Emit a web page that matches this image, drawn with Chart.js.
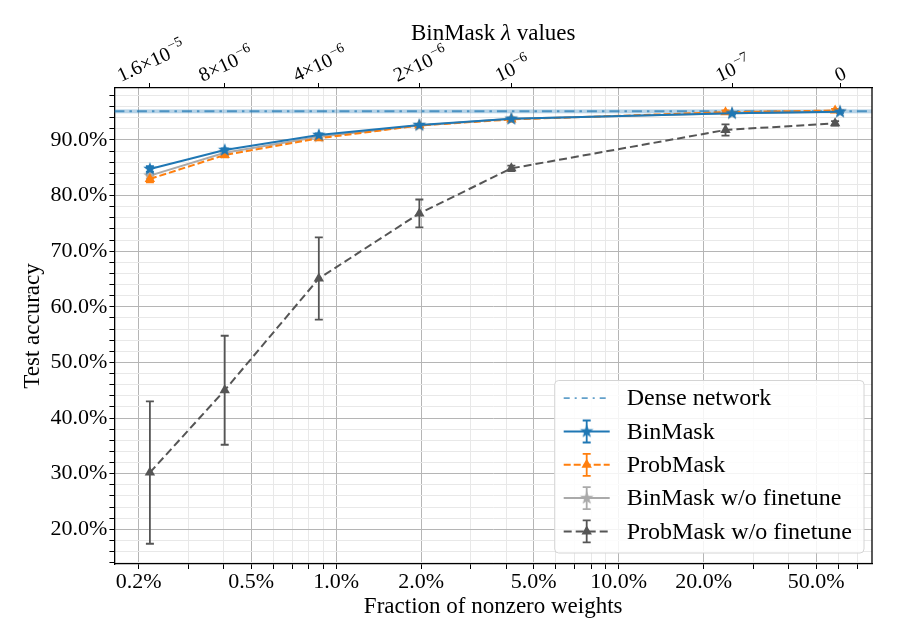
<!DOCTYPE html>
<html>
<head>
<meta charset="utf-8">
<title>Test accuracy vs fraction of nonzero weights</title>
<script src="https://cdn.jsdelivr.net/npm/chart.js@4.4.0/dist/chart.umd.min.js"></script>
<style>
  html, body { margin: 0; padding: 0; background: #ffffff; }
  #wrap { width: 900px; height: 643px; }
</style>
</head>
<body>
<div id="wrap"><canvas id="accChart"></canvas></div>
<script>
const FONT = "'Liberation Serif', 'DejaVu Serif', serif";

// Bottom axis: fraction of nonzero weights (%), log scale
const xMin = 0.164;
const xMax = 78.9;
const xTickValues = [0.2, 0.5, 1, 2, 5, 10, 20, 50];
const xTickLabels = ['0.2%', '0.5%', '1.0%', '2.0%', '5.0%', '10.0%', '20.0%', '50.0%'];
// light grid lines between the labelled ticks
const xMinorValues = [0.3, 0.4, 0.6, 0.7, 0.8, 0.9, 3, 4, 6, 7, 8, 9, 30, 40, 60, 70];

// Left axis: test accuracy (%)
const yMin = 13.76;
const yMax = 99.35;
const yTickValues = [20, 30, 40, 50, 60, 70, 80, 90];
const yTickLabels = ['20.0%', '30.0%', '40.0%', '50.0%', '60.0%', '70.0%', '80.0%', '90.0%'];
const yMinorStep = 2;

// Top axis: BinMask lambda values, sitting on the BinMask fractions
const lambdaBase = ['1.6×10', '8×10', '4×10', '2×10', '10', '10', '0'];
const lambdaExp = ['−5', '−6', '−6', '−6', '−6', '−7', ''];

// BinMask
const binFrac = [0.219, 0.403, 0.868, 1.97, 4.17, 25.2, 60.8];
const binAcc = [84.8, 88.2, 90.9, 92.7, 93.8, 94.8, 95.1];
const binErr = [0.5, 0.3, 0.3, 0.2, 0.2, 0.2, 0.2];

// ProbMask
const probFrac = [0.219, 0.403, 0.868, 1.97, 4.17, 23.9, 58.4];
const probAcc = [83.0, 87.3, 90.3, 92.6, 93.7, 95.0, 95.3];
const probErr = [0.6, 0.4, 0.3, 0.3, 0.2, 0.3, 0.3];

// BinMask w/o finetune
const binNoFtAcc = [83.6, 87.7, 90.6, 92.6, 93.8, 94.8, 95.1];
const binNoFtErr = [0.5, 0.3, 0.3, 0.2, 0.2, 0.2, 0.2];

// ProbMask w/o finetune
const probNoFtAcc = [30.2, 45.0, 65.1, 76.8, 84.9, 91.8, 93.0];
const probNoFtErr = [12.8, 9.8, 7.4, 2.5, 0.5, 1.0, 0.4];

// Dense network (mean and spread)
const denseAcc = 95.15;
const denseStd = 0.35;

const blue = '#1f77b4';
const orange = '#ff7f0e';
const lightGrey = '#aaaaaa';
const darkGrey = '#555555';
const denseColor = 'rgba(31, 119, 180, 0.7)';
const denseBand = 'rgba(31, 119, 180, 0.32)';
const majorGrid = '#b5b5b5';
const minorGrid = '#e8e8e8';

function makeStar(color) {
    const c = document.createElement('canvas');
    c.width = 16;
    c.height = 16;
    const g = c.getContext('2d');
    g.beginPath();
    for (let i = 0; i < 10; i++) {
        const r = i % 2 === 0 ? 7 : 2.9;
        const a = -Math.PI / 2 + i * Math.PI / 5;
        g.lineTo(8 + r * Math.cos(a), 8 + r * Math.sin(a));
    }
    g.closePath();
    g.fillStyle = color;
    g.fill();
    return c;
}
const blueStar = makeStar(blue);
const greyStar = makeStar(lightGrey);

function toPoints(xs, ys) {
    return xs.map((x, i) => ({ x: x, y: ys[i] }));
}

function findLabel(values, labels, v) {
    const i = values.findIndex(t => Math.abs(t - v) < 1e-6 * Math.max(1, t));
    return i >= 0 ? labels[i] : '';
}

function isMajor(values, v) {
    return values.some(t => Math.abs(t - v) < 1e-6 * Math.max(1, t));
}

// Error bars drawn through the chart scales
const errorSeries = [
    { frac: probFrac, acc: probNoFtAcc, err: probNoFtErr, color: darkGrey },
    { frac: binFrac, acc: binNoFtAcc, err: binNoFtErr, color: lightGrey },
    { frac: probFrac, acc: probAcc, err: probErr, color: orange },
    { frac: binFrac, acc: binAcc, err: binErr, color: blue }
];

function drawErrorBar(ctx, x, yHi, yLo, color) {
    ctx.strokeStyle = color;
    ctx.lineWidth = 1.8;
    ctx.beginPath();
    ctx.moveTo(x, yHi);
    ctx.lineTo(x, yLo);
    ctx.moveTo(x - 4, yHi);
    ctx.lineTo(x + 4, yHi);
    ctx.moveTo(x - 4, yLo);
    ctx.lineTo(x + 4, yLo);
    ctx.stroke();
}

const backgroundPlugin = {
    id: 'denseAndErrors',
    beforeDatasetsDraw(chart) {
        const { ctx, chartArea, scales } = chart;
        ctx.save();
        ctx.beginPath();
        ctx.rect(chartArea.left, chartArea.top, chartArea.width, chartArea.height);
        ctx.clip();

        // dense network band and dash-dot line
        const yHi = scales.y.getPixelForValue(denseAcc + denseStd);
        const yLo = scales.y.getPixelForValue(denseAcc - denseStd);
        const yMid = scales.y.getPixelForValue(denseAcc);
        ctx.fillStyle = denseBand;
        ctx.fillRect(chartArea.left, yHi, chartArea.width, yLo - yHi);
        ctx.strokeStyle = denseColor;
        ctx.lineWidth = 2;
        ctx.setLineDash([10, 5, 2.5, 5]);
        ctx.beginPath();
        ctx.moveTo(chartArea.left, yMid);
        ctx.lineTo(chartArea.right, yMid);
        ctx.stroke();
        ctx.setLineDash([]);

        errorSeries.forEach(s => {
            s.frac.forEach((f, i) => {
                const px = scales.x.getPixelForValue(f);
                drawErrorBar(ctx,
                    px,
                    scales.y.getPixelForValue(s.acc[i] + s.err[i]),
                    scales.y.getPixelForValue(s.acc[i] - s.err[i]),
                    s.color);
            });
        });
        ctx.restore();
    }
};

const legendItems = [
    { label: 'Dense network', color: denseColor, dash: [6, 5, 2, 5], marker: null, width: 1.8 },
    { label: 'BinMask', color: blue, dash: [], marker: 'blueStar', width: 2 },
    { label: 'ProbMask', color: orange, dash: [7, 3], marker: 'triangle', width: 2 },
    { label: 'BinMask w/o finetune', color: lightGrey, dash: [], marker: 'greyStar', width: 2 },
    { label: 'ProbMask w/o finetune', color: darkGrey, dash: [8, 4], marker: 'triangle', width: 2 }
];

function drawTriangle(ctx, x, y, r, color) {
    ctx.fillStyle = color;
    ctx.beginPath();
    for (let k = 0; k < 3; k++) {
        const a = -Math.PI / 2 + k * 2 * Math.PI / 3;
        ctx.lineTo(x + r * Math.cos(a), y + r * Math.sin(a));
    }
    ctx.closePath();
    ctx.fill();
}

function drawLegend(chart) {
    const { ctx, chartArea } = chart;
    ctx.save();
    ctx.font = '24px ' + FONT;
    const textW = Math.max(...legendItems.map(it => ctx.measureText(it.label).width));
    const rowH = 33.3;
    const w = 72 + textW + 12;
    const h = rowH * legendItems.length + 6;
    const x0 = chartArea.right - 8 - w;
    const y0 = chartArea.bottom - 11 - h;

    ctx.fillStyle = 'rgba(255, 255, 255, 0.85)';
    ctx.strokeStyle = '#d4d4d4';
    ctx.lineWidth = 1;
    ctx.beginPath();
    ctx.roundRect(x0, y0, w, h, 4);
    ctx.fill();
    ctx.stroke();

    legendItems.forEach((it, i) => {
        const cy = y0 + 17.7 + i * rowH;
        const lx0 = x0 + 9;
        const lx1 = x0 + 55;
        const cx = x0 + 32;
        ctx.strokeStyle = it.color;
        ctx.lineWidth = it.width;
        ctx.setLineDash(it.dash);
        ctx.beginPath();
        ctx.moveTo(lx0, cy);
        ctx.lineTo(lx1, cy);
        ctx.stroke();
        ctx.setLineDash([]);
        if (it.marker) {
            drawErrorBar(ctx, cx, cy - 11, cy + 11, it.color);
            if (it.marker === 'triangle') {
                drawTriangle(ctx, cx, cy, 6, it.color);
            } else {
                const img = it.marker === 'blueStar' ? blueStar : greyStar;
                ctx.drawImage(img, cx - 8, cy - 8);
            }
        }
        ctx.fillStyle = '#000';
        ctx.textAlign = 'left';
        ctx.textBaseline = 'middle';
        ctx.fillText(it.label, x0 + 72, cy + 1);
    });
    ctx.restore();
}

function drawTopAxis(chart) {
    const { ctx, chartArea, scales } = chart;
    const baseFont = '20px ' + FONT;
    const expFont = '14px ' + FONT;
    const tilt = 25 * Math.PI / 180;
    const s = Math.sin(tilt);
    const c = Math.cos(tilt);
    const expRaise = 8;
    const textTop = 18;  // distance from base baseline to exponent top
    ctx.save();
    ctx.fillStyle = '#000';
    ctx.textAlign = 'left';
    ctx.textBaseline = 'alphabetic';
    binFrac.forEach((v, i) => {
        const px = scales.x2.getPixelForValue(v);
        ctx.font = baseFont;
        const wb = ctx.measureText(lambdaBase[i]).width;
        ctx.font = expFont;
        const we = lambdaExp[i] ? ctx.measureText(lambdaExp[i]).width + 1 : 0;
        const w = wb + we;
        const top = lambdaExp[i] ? textTop : 14;
        // origin on the base baseline at the text centre; lowest corner sits 6px above the spine
        const oy = chartArea.top - 6 - (w / 2) * s;
        const ox = px + (top / 2) * s;
        ctx.save();
        ctx.translate(ox, oy);
        ctx.rotate(-tilt);
        ctx.font = baseFont;
        ctx.fillText(lambdaBase[i], -w / 2, 0);
        if (lambdaExp[i]) {
            ctx.font = expFont;
            ctx.fillText(lambdaExp[i], -w / 2 + wb + 1, -expRaise);
        }
        ctx.restore();
    });

    // top title "BinMask λ values"
    const parts = [
        { text: 'BinMask ', font: '23px ' + FONT },
        { text: 'λ', font: 'italic 23px ' + FONT },
        { text: ' values', font: '23px ' + FONT }
    ];
    let total = 0;
    parts.forEach(p => { ctx.font = p.font; p.w = ctx.measureText(p.text).width; total += p.w; });
    let tx = (chartArea.left + chartArea.right) / 2 - total / 2;
    const ty = chartArea.top - 48;
    parts.forEach(p => {
        ctx.font = p.font;
        ctx.fillText(p.text, tx, ty);
        tx += p.w;
    });

    // right spine
    ctx.strokeStyle = '#000';
    ctx.lineWidth = 1.3;
    ctx.beginPath();
    ctx.moveTo(chartArea.right, chartArea.top);
    ctx.lineTo(chartArea.right, chartArea.bottom);
    ctx.stroke();
    ctx.restore();
}

const foregroundPlugin = {
    id: 'topAxisAndLegend',
    afterDraw(chart) {
        drawTopAxis(chart);
        drawLegend(chart);
    }
};

const ctx = document.getElementById('accChart').getContext('2d');
new Chart(ctx, {
    type: 'line',
    data: {
        datasets: [
            {
                label: 'BinMask',
                data: toPoints(binFrac, binAcc),
                borderColor: blue,
                backgroundColor: blue,
                borderWidth: 2,
                pointStyle: blueStar,
                pointRadius: 7
            },
            {
                label: 'ProbMask',
                data: toPoints(probFrac, probAcc),
                borderColor: orange,
                backgroundColor: orange,
                borderWidth: 2,
                borderDash: [7, 3],
                pointStyle: 'triangle',
                pointRadius: 6,
                pointBorderWidth: 0
            },
            {
                label: 'BinMask w/o finetune',
                data: toPoints(binFrac, binNoFtAcc),
                borderColor: lightGrey,
                backgroundColor: lightGrey,
                borderWidth: 2,
                pointStyle: greyStar,
                pointRadius: 7
            },
            {
                label: 'ProbMask w/o finetune',
                data: toPoints(probFrac, probNoFtAcc),
                borderColor: darkGrey,
                backgroundColor: darkGrey,
                borderWidth: 2,
                borderDash: [8, 4],
                pointStyle: 'triangle',
                pointRadius: 6,
                pointBorderWidth: 0
            }
        ]
    },
    options: {
        responsive: true,
        maintainAspectRatio: false,
        animation: false,
        layout: { padding: { left: 19, right: 28, top: 83, bottom: 22 } },
        plugins: {
            legend: { display: false },
            tooltip: { enabled: false }
        },
        scales: {
            x: {
                type: 'logarithmic',
                position: 'bottom',
                min: xMin,
                max: xMax,
                afterBuildTicks: (axis) => {
                    axis.ticks = xTickValues.concat(xMinorValues)
                        .sort((a, b) => a - b)
                        .map(v => ({ value: v }));
                },
                ticks: {
                    autoSkip: false,
                    maxRotation: 0,
                    padding: 0,
                    color: '#000',
                    font: { family: FONT, size: 22 },
                    callback: (v) => findLabel(xTickValues, xTickLabels, v)
                },
                grid: {
                    color: (c) => c.tick && isMajor(xTickValues, c.tick.value) ? majorGrid : minorGrid,
                    lineWidth: 1,
                    tickLength: 5,
                    tickColor: '#000'
                },
                border: { color: '#000', width: 1.3 },
                title: {
                    display: true,
                    text: 'Fraction of nonzero weights',
                    color: '#000',
                    font: { family: FONT, size: 23 },
                    padding: { top: -2, bottom: 0 }
                }
            },
            x2: {
                type: 'logarithmic',
                position: 'top',
                min: xMin,
                max: xMax,
                afterBuildTicks: (axis) => {
                    axis.ticks = binFrac.map(v => ({ value: v }));
                },
                ticks: { display: false },
                grid: {
                    drawOnChartArea: false,
                    tickLength: 5,
                    color: '#000',
                    tickColor: '#000'
                },
                border: { color: '#000', width: 1.3 }
            },
            y: {
                type: 'linear',
                min: yMin,
                max: yMax,
                afterBuildTicks: (axis) => {
                    const ticks = [];
                    for (let v = Math.ceil(yMin / yMinorStep) * yMinorStep; v <= yMax; v += yMinorStep) {
                        ticks.push({ value: v });
                    }
                    axis.ticks = ticks;
                },
                ticks: {
                    autoSkip: false,
                    padding: 2,
                    color: '#000',
                    font: { family: FONT, size: 22 },
                    callback: (v) => findLabel(yTickValues, yTickLabels, v)
                },
                grid: {
                    color: (c) => c.tick && isMajor(yTickValues, c.tick.value) ? majorGrid : minorGrid,
                    lineWidth: 1,
                    tickLength: 5,
                    tickColor: '#000'
                },
                border: { color: '#000', width: 1.3 },
                title: {
                    display: true,
                    text: 'Test accuracy',
                    color: '#000',
                    font: { family: FONT, size: 23 },
                    padding: { top: 0, bottom: 2 }
                }
            }
        }
    },
    plugins: [backgroundPlugin, foregroundPlugin]
});
</script>
</body>
</html>
